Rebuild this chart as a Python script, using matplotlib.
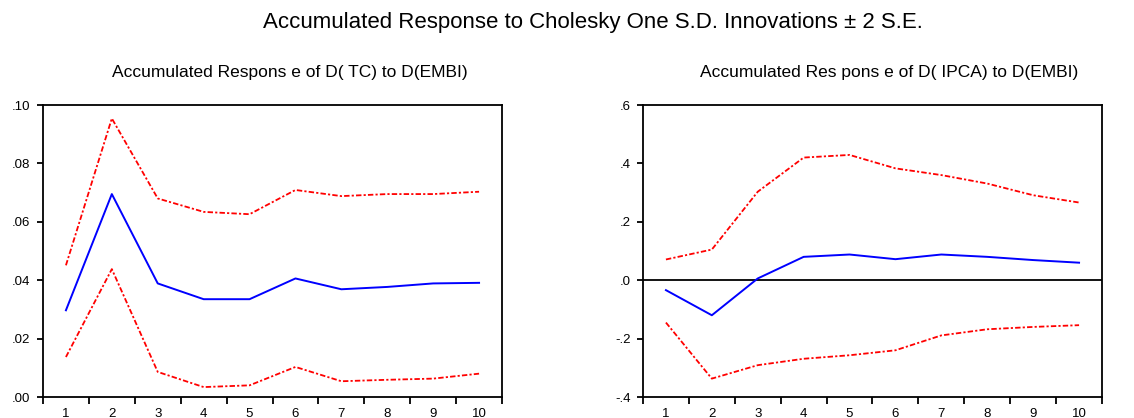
import matplotlib
matplotlib.use("Agg")
import matplotlib.pyplot as plt
from matplotlib.ticker import FuncFormatter

plt.rcParams['font.family'] = ['Liberation Sans Narrow', 'Liberation Sans', 'DejaVu Sans']

#-----------------------------#
#            Data
#-----------------------------#

periods = [1, 2, 3, 4, 5, 6, 7, 8, 9, 10]

tc_resp = [0.0297, 0.0695, 0.0389, 0.0335, 0.0335, 0.0406, 0.0369, 0.0377, 0.0389, 0.0391]
tc_upper = [0.0451, 0.0954, 0.0680, 0.0634, 0.0626, 0.0709, 0.0688, 0.0695, 0.0695, 0.0703]
tc_lower = [0.0137, 0.0438, 0.0086, 0.0034, 0.0040, 0.0103, 0.0054, 0.0059, 0.0063, 0.0080]

ipca_resp = [-0.034, -0.120, 0.006, 0.080, 0.088, 0.072, 0.088, 0.080, 0.069, 0.060]
ipca_upper = [0.071, 0.105, 0.303, 0.420, 0.429, 0.383, 0.360, 0.331, 0.291, 0.266]
ipca_lower = [-0.145, -0.337, -0.291, -0.269, -0.257, -0.240, -0.189, -0.168, -0.160, -0.154]


def strip_zero(v, pos, digits):
    s = f"{v:.{digits}f}"
    return s.replace("0.", ".", 1) if abs(v) < 1 else s


def draw_panel(ax, resp, upper, lower, ylim, yticks, digits, title, zero_line=False):
    if zero_line:
        ax.axhline(0, color='black', lw=1.3, zorder=1)
    ax.plot(periods, resp, color='blue', lw=1.4, zorder=3)
    ax.plot(periods, upper, color='red', lw=1.3, linestyle=(0, (3, 1.2, 1.2, 1.2)), zorder=2)
    ax.plot(periods, lower, color='red', lw=1.3, linestyle=(0, (3, 1.2, 1.2, 1.2)), zorder=2)

    ax.set_xlim(0.5, 10.5)
    ax.set_ylim(*ylim)
    ax.set_yticks(yticks)
    ax.yaxis.set_major_formatter(FuncFormatter(lambda v, p: strip_zero(v, p, digits)))

    # ticks at period boundaries, labels centered
    ax.set_xticks([i + 0.5 for i in range(11)])
    ax.set_xticklabels([])
    ax.set_xticks(periods, minor=True)
    ax.set_xticklabels([str(p) for p in periods], minor=True)
    ax.tick_params(axis='x', which='major', direction='out', length=5, width=1.3)
    ax.tick_params(axis='x', which='minor', length=0, pad=8, labelsize=9.5)
    ax.tick_params(axis='y', direction='out', length=4, width=1.3, labelsize=9.5, pad=5)
    for sp in ax.spines.values():
        sp.set_linewidth(1.3)
    ax.set_title(title, fontsize=12.5, pad=20, x=0.537)


fig = plt.figure(figsize=(11.34, 4.18), dpi=100)
ax1 = fig.add_axes([0.0379, 0.0502, 0.4048, 0.6986])
ax2 = fig.add_axes([0.5670, 0.0502, 0.4048, 0.6986])

draw_panel(ax1, tc_resp, tc_upper, tc_lower, (0.0, 0.10),
           [0.0, 0.02, 0.04, 0.06, 0.08, 0.10], 2,
           'Accumulated Respons e of D( TC) to D(EMBI)')
draw_panel(ax2, ipca_resp, ipca_upper, ipca_lower, (-0.4, 0.6),
           [-0.4, -0.2, 0.0, 0.2, 0.4, 0.6], 1,
           'Accumulated Res pons e of D( IPCA) to D(EMBI)', zero_line=True)

fig.text(0.523, 0.947, 'Accumulated Response to Cholesky One S.D. Innovations \u00b1 2 S.E.',
         ha='center', va='center', fontsize=16)

fig.savefig('out.png', dpi=100)
